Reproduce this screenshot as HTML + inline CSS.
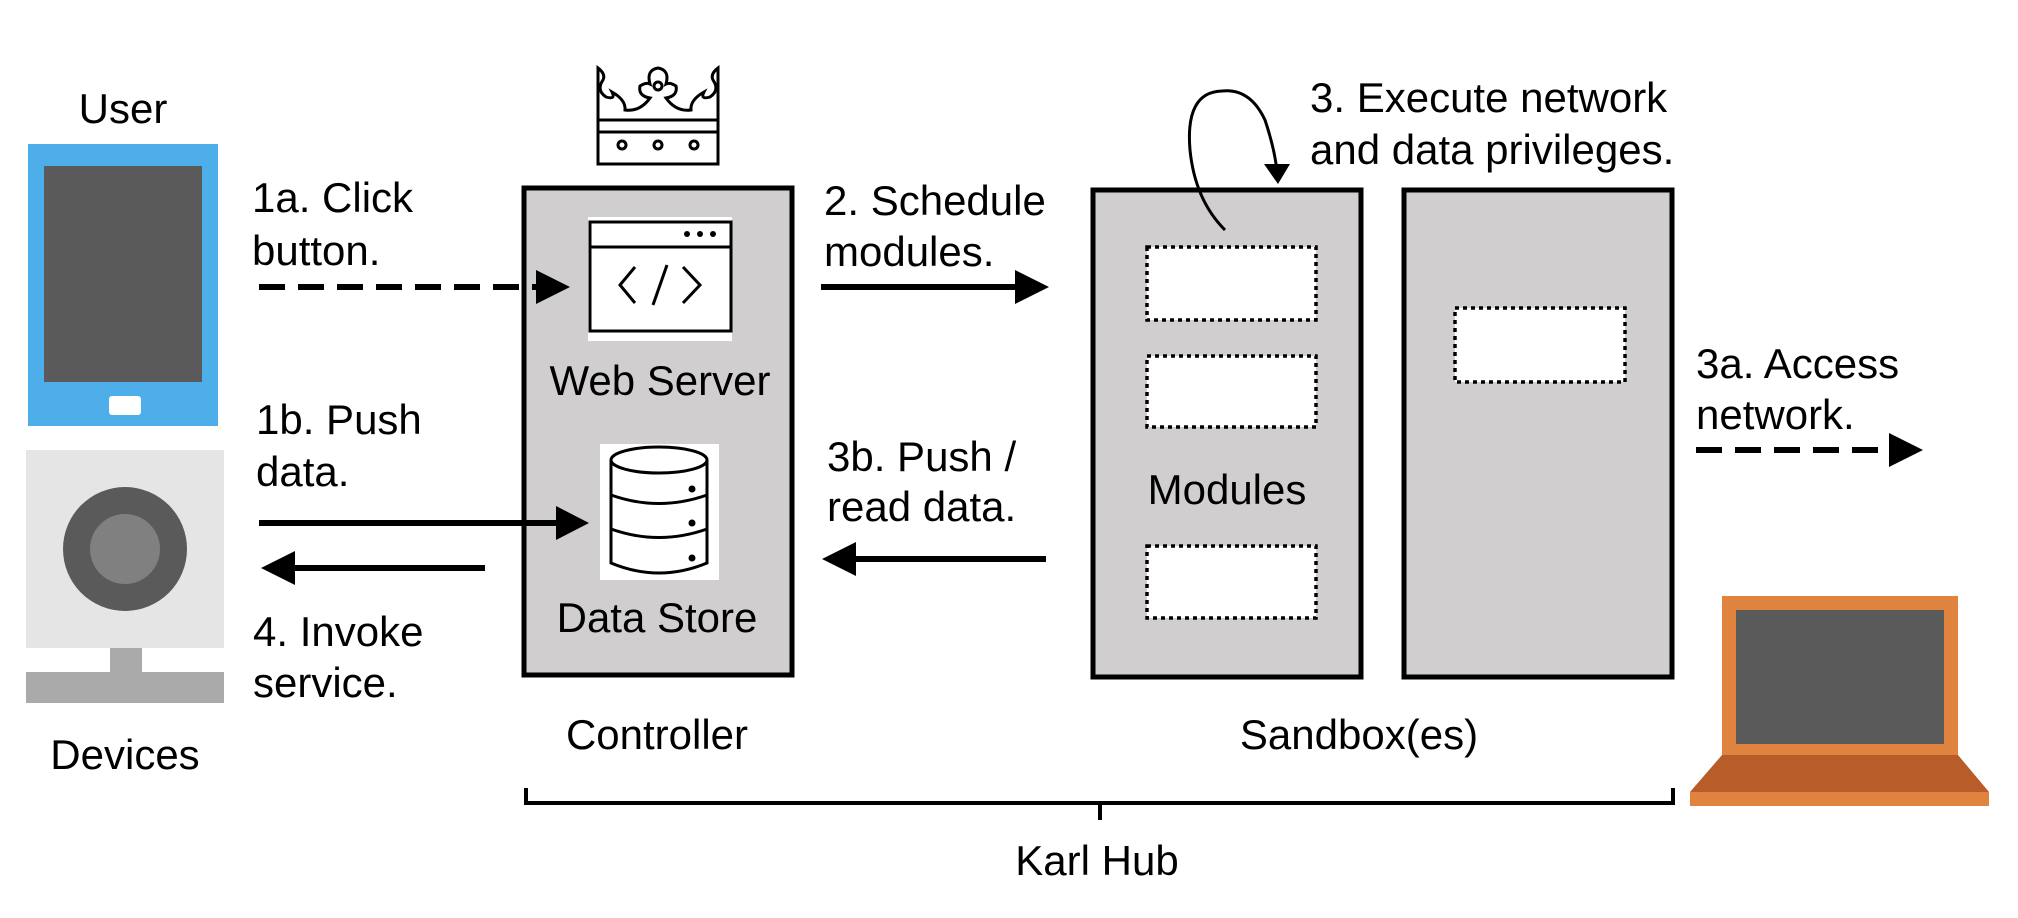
<!DOCTYPE html>
<html><head><meta charset="utf-8"><style>
html,body{margin:0;padding:0;background:#fff;}
svg{display:block;}
text{font-family:"Liberation Sans",Arial,sans-serif;font-size:42px;fill:#000;}
</style></head><body>
<svg width="2018" height="918" viewBox="0 0 2018 918" xmlns="http://www.w3.org/2000/svg">
<!-- User tablet -->
<text x="123" y="123" text-anchor="middle">User</text>
<rect x="28" y="144" width="190" height="282" fill="#4DAEEA"/>
<rect x="44" y="166" width="158" height="216" fill="#5A5A5A"/>
<rect x="109" y="396" width="32" height="19" rx="3" fill="#fff"/>
<!-- Webcam -->
<rect x="26" y="450" width="198" height="198" fill="#E5E5E5"/>
<circle cx="125" cy="549" r="62" fill="#5A5A5A"/>
<circle cx="125" cy="549" r="35" fill="#808080"/>
<rect x="110" y="648" width="32" height="24" fill="#AAAAAA"/>
<rect x="26" y="672" width="198" height="31" fill="#AAAAAA"/>
<text x="125" y="769" text-anchor="middle">Devices</text>

<!-- labels left -->
<text x="252" y="212">1a. Click</text>
<text x="252" y="265">button.</text>
<text x="256" y="434">1b. Push</text>
<text x="256" y="486">data.</text>
<text x="253" y="646">4. Invoke</text>
<text x="253" y="697">service.</text>

<!-- Controller -->
<rect x="524" y="188" width="268" height="487" fill="#D0CECF" stroke="#000" stroke-width="5"/>
<!-- crown -->
<g fill="none" stroke="#000" stroke-width="3">
<rect x="598" y="120" width="120" height="44" fill="#fff"/>
<line x1="598" y1="132" x2="718" y2="132"/>
<circle cx="622" cy="145" r="4"/><circle cx="658" cy="145" r="4"/><circle cx="694" cy="145" r="4"/>
<path d="M598 120 L598 68 Q606 74 603 80 Q596 90 606 97 Q616 100 612 92 Q626 100 625 110 Q640 112 650 98 Q638 96 640 86 Q646 82 650 84 Q646 70 658 68 Q670 70 666 84 Q670 82 676 86 Q678 96 666 98 Q676 112 691 110 Q690 100 704 92 Q700 100 710 97 Q720 90 713 80 Q710 74 718 68 L718 120"/>
<circle cx="658" cy="86" r="4"/>
</g>
<!-- web server icon -->
<rect x="588" y="217" width="144" height="124" fill="#fff"/>
<g fill="none" stroke="#000" stroke-width="3">
<rect x="590" y="222" width="141" height="109"/>
<line x1="590" y1="247" x2="731" y2="247"/>
<polyline points="635,267 620,285 635,303"/>
<line x1="667" y1="265" x2="653" y2="305"/>
<polyline points="683,267 700,285 683,303"/>
</g>
<circle cx="687" cy="234" r="3" fill="#000"/><circle cx="700" cy="234" r="3" fill="#000"/><circle cx="713" cy="234" r="3" fill="#000"/>
<text x="660" y="395" text-anchor="middle">Web Server</text>
<!-- DB icon -->
<rect x="600" y="444" width="119" height="136" fill="#fff"/>
<g fill="none" stroke="#000" stroke-width="3">
<ellipse cx="659" cy="460" rx="48" ry="13"/>
<path d="M611 460 L611 563 Q659 583 707 563 L707 460"/>
<path d="M611 495 Q659 512 707 495"/>
<path d="M611 529 Q659 546 707 529"/>
</g>
<circle cx="692" cy="489" r="3.5" fill="#000"/><circle cx="692" cy="523" r="3.5" fill="#000"/><circle cx="692" cy="558" r="3.5" fill="#000"/>
<text x="657" y="632" text-anchor="middle">Data Store</text>
<text x="657" y="749" text-anchor="middle">Controller</text>

<!-- arrows left -->
<line x1="259" y1="287" x2="540" y2="287" stroke="#000" stroke-width="6" stroke-dasharray="26,13"/>
<polygon points="536,270 570,287 536,304" fill="#000"/>
<line x1="259" y1="523" x2="560" y2="523" stroke="#000" stroke-width="6"/>
<polygon points="556,506 589,523 556,540" fill="#000"/>
<line x1="290" y1="568" x2="485" y2="568" stroke="#000" stroke-width="6"/>
<polygon points="295,551 261,568 295,585" fill="#000"/>

<!-- middle labels & arrows -->
<text x="824" y="215">2. Schedule</text>
<text x="824" y="266">modules.</text>
<line x1="821" y1="287" x2="1020" y2="287" stroke="#000" stroke-width="6"/>
<polygon points="1015,270 1049,287 1015,304" fill="#000"/>
<text x="827" y="471">3b. Push /</text>
<text x="827" y="521">read data.</text>
<line x1="850" y1="559" x2="1046" y2="559" stroke="#000" stroke-width="6"/>
<polygon points="856,542 822,559 856,576" fill="#000"/>

<!-- Sandboxes -->
<rect x="1093" y="190" width="268" height="487" fill="#D0CECF" stroke="#000" stroke-width="5"/>
<rect x="1404" y="190" width="268" height="487" fill="#D0CECF" stroke="#000" stroke-width="5"/>
<g fill="#fff" stroke="#000" stroke-width="3.5" stroke-dasharray="4,4">
<rect x="1147" y="247" width="169" height="73"/>
<rect x="1147" y="356" width="169" height="71"/>
<rect x="1147" y="546" width="169" height="72"/>
<rect x="1455" y="308" width="170" height="74"/>
</g>
<text x="1227" y="504" text-anchor="middle">Modules</text>
<path d="M1225 230 Q1195 200 1190 150 Q1185 92 1222 91 Q1250 88 1265 120 Q1275 150 1277 172" fill="none" stroke="#000" stroke-width="3"/>
<polygon points="1264,164 1290,164 1278,184" fill="#000"/>
<text x="1310" y="112">3. Execute network</text>
<text x="1310" y="164">and data privileges.</text>
<text x="1359" y="749" text-anchor="middle">Sandbox(es)</text>

<!-- 3a -->
<text x="1696" y="378">3a. Access</text>
<text x="1696" y="429">network.</text>
<line x1="1696" y1="450" x2="1895" y2="450" stroke="#000" stroke-width="6" stroke-dasharray="26,13"/>
<polygon points="1889,433 1923,450 1889,467" fill="#000"/>

<!-- Laptop -->
<rect x="1722" y="596" width="236" height="159" fill="#E0833F"/>
<rect x="1736" y="610" width="208" height="134" fill="#5A5A5A"/>
<polygon points="1722,755 1958,755 1989,792 1690,792" fill="#B85C2A"/>
<rect x="1690" y="792" width="299" height="14" fill="#E0833F"/>

<!-- bracket -->
<path d="M526 788 L526 803 L1673 803 L1673 788" fill="none" stroke="#000" stroke-width="4"/>
<line x1="1100" y1="803" x2="1100" y2="820" stroke="#000" stroke-width="4"/>
<text x="1097" y="875" text-anchor="middle">Karl Hub</text>
</svg>
</body></html>
